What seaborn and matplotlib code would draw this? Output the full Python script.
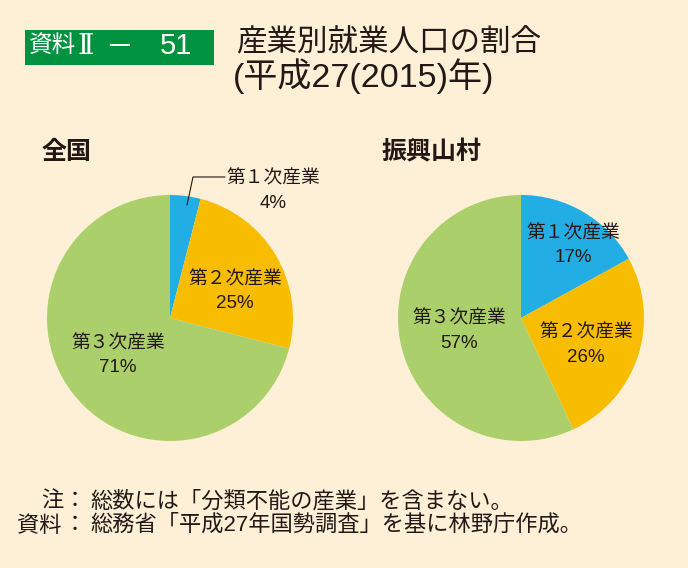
import matplotlib
matplotlib.use("Agg")
import matplotlib.pyplot as plt
import seaborn as sns
from matplotlib.patches import Rectangle

sns.set_style("white")
plt.rcParams['font.family'] = ['Liberation Sans', 'Noto Sans CJK JP', 'DejaVu Sans']
CJK = ['Noto Sans CJK JP', 'DejaVu Sans']

categories = ["第１次産業", "第２次産業", "第３次産業"]
national = [4, 25, 71]
mountain = [17, 26, 57]
panel_titles = ["全国", "振興山村"]

colors = ["#22ADE4", "#F8BD00", "#AACF6B"]
bg = "#FDF0D7"
ink = "#231815"
W, H = 688, 568

fig = plt.figure(figsize=(W / 100, H / 100), dpi=100, facecolor=bg)

def fx(px):
    return px / W

def fy(py):
    return 1 - py / H

# Title box
fig.patches.append(Rectangle((fx(25), fy(65)), (214 - 25) / W, (65 - 30) / H,
                             transform=fig.transFigure, facecolor="#00923F",
                             edgecolor="none", zorder=0))
fig.text(fx(53), fy(46), "資料", color="white", fontsize=17, family=CJK,
         ha="center", va="center")
fig.text(fx(86), fy(46), "Ⅱ", color="white", fontsize=20,
         family=['DejaVu Serif', 'Noto Sans CJK JP'], ha="center", va="center")
fig.text(fx(119), fy(46), "－", color="white", fontsize=20, family=CJK,
         ha="center", va="center")
fig.text(fx(176), fy(46), "51", color="white", fontsize=21,
         ha="center", va="center")

fig.text(fx(237), fy(43), "産業別就業人口の割合", color=ink, fontsize=22,
         family=CJK, ha="left", va="center")
fig.text(fx(233), fy(76), "(平成27(2015)年)", color=ink, fontsize=24.5,
         ha="left", va="center")

# Panel titles
fig.text(fx(42), fy(152), panel_titles[0], color=ink, fontsize=18,
         fontweight="bold", family=CJK, ha="left", va="center")
fig.text(fx(382), fy(152), panel_titles[1], color=ink, fontsize=18,
         fontweight="bold", family=CJK, ha="left", va="center")

R = 123
centers = [(170, 318), (521, 318)]
datasets = [national, mountain]

for (cx, cy), vals in zip(centers, datasets):
    ax = fig.add_axes([fx(cx - R), fy(cy + R), 2 * R / W, 2 * R / H])
    ax.pie(vals, colors=colors, startangle=90, counterclock=False,
           radius=1, wedgeprops=dict(linewidth=0))
    ax.set_xlim(-1, 1)
    ax.set_ylim(-1, 1)
    ax.set_aspect("equal")
    ax.axis("off")
    ax.set_facecolor("none")

label_pos = [
    [(273, 178), (235, 279), (118, 343)],
    [(573, 233), (586, 332), (459, 318)],
]
lab_fs = 13.5
for vals, poss in zip(datasets, label_pos):
    for cat, v, (px, py) in zip(categories, vals, poss):
        fig.text(fx(px), fy(py), cat, fontsize=lab_fs, color=ink, family=CJK,
                 ha="center", va="center")
        fig.text(fx(px), fy(py + 25), f"{v}%", fontsize=lab_fs, color=ink,
                 ha="center", va="center")

# leader line for small slice
fig.lines.append(plt.Line2D([fx(187), fx(193), fx(225)], [fy(205), fy(177), fy(177)],
                            transform=fig.transFigure, color=ink, linewidth=0.8))

# Footnotes
fn = 16
fig.text(fx(63), fy(501), "注", fontsize=fn, color=ink, family=CJK, ha="right", va="center")
fig.text(fx(62), fy(525), "資料", fontsize=fn, color=ink, family=CJK, ha="right", va="center")
fig.text(fx(75), fy(501), "：", fontsize=fn, color=ink, family=CJK, ha="center", va="center")
fig.text(fx(75), fy(525), "：", fontsize=fn, color=ink, family=CJK, ha="center", va="center")
fig.text(fx(90), fy(501), "総数には「分類不能の産業」を含まない。", fontsize=fn,
         color=ink, family=CJK, ha="left", va="center")
fig.text(fx(90), fy(525), "総務省「平成27年国勢調査」を基に林野庁作成。", fontsize=fn,
         color=ink, ha="left", va="center")

fig.savefig("out.png", dpi=100, facecolor=bg)
